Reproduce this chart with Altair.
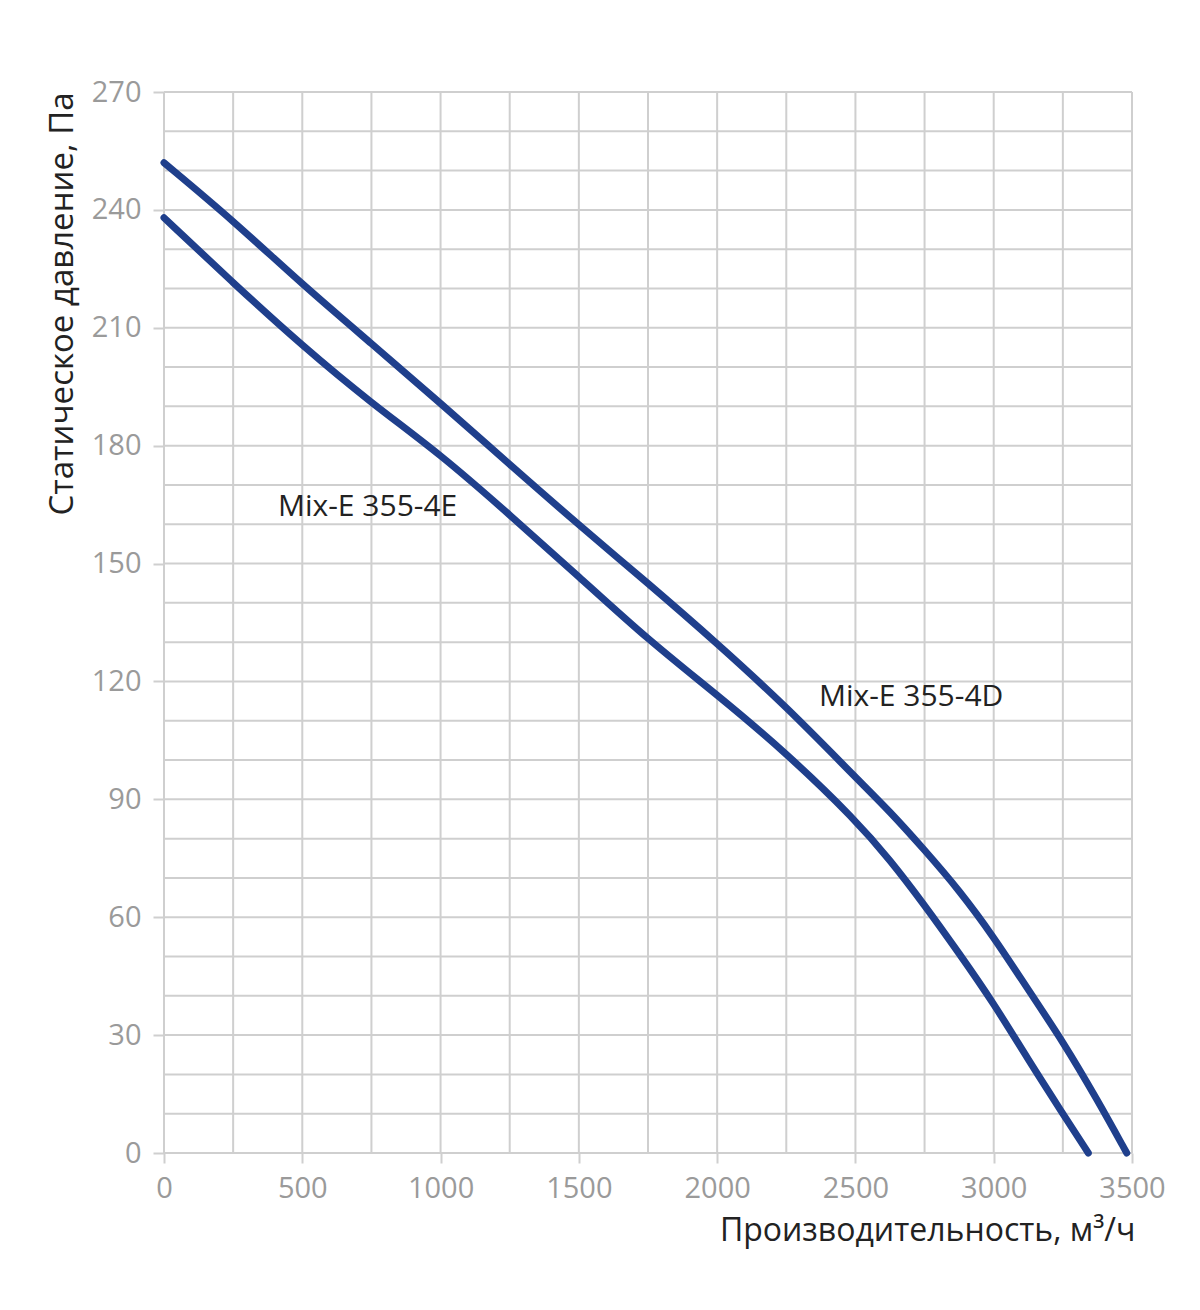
import altair as alt
import pandas as pd

# Data
flow_4d = [0, 250, 500, 750, 1000, 1250, 1500, 1750, 2000, 2250, 2500, 2625, 2750, 2875, 3000, 3125, 3250, 3375, 3481]
pres_4d = [252, 237.3, 221, 206, 190.8, 175.2, 159.8, 145, 129.7, 113.6, 95.6, 86.9, 77.1, 66.9, 55, 41.5, 28.4, 13.5, 0]
flow_4e = [0, 250, 500, 750, 1000, 1250, 1500, 1750, 2000, 2250, 2500, 2625, 2750, 2875, 3000, 3125, 3250, 3342]
pres_4e = [238, 221.4, 205.4, 190.8, 177.8, 162.4, 146.7, 130.6, 116.6, 101.8, 84.8, 74.6, 63.1, 50.8, 38.1, 23.7, 10, 0]

series_names = ["Mix-E 355-4D", "Mix-E 355-4E"]
label_x = [2368, 412]
label_y = [116, 164.4]

x_ticks = list(range(0, 3501, 500))
y_ticks = list(range(0, 271, 30))
x_grid = list(range(0, 3501, 250))
y_grid = list(range(0, 271, 10))

FONT = "Open Sans"
LINE_COLOR = "#1f3f8c"
GRID = "#cfcfcf"

df = pd.concat([
    pd.DataFrame({"flow": flow_4d, "pressure": pres_4d, "series": series_names[0]}),
    pd.DataFrame({"flow": flow_4e, "pressure": pres_4e, "series": series_names[1]}),
])
labels = pd.DataFrame({"flow": label_x, "pressure": label_y, "text": series_names})
xg = pd.DataFrame({"flow": x_grid})
yg = pd.DataFrame({"pressure": y_grid})

x_scale = alt.Scale(domain=[0, 3500], nice=False, zero=False)
y_scale = alt.Scale(domain=[0, 270], nice=False, zero=False)

x_axis = alt.Axis(
    values=x_ticks,
    title="Производительность, м³/ч",
    grid=False, domain=False,
    ticks=True, tickSize=10, tickWidth=2, tickColor=GRID,
    format="d",
    labelFont=FONT, labelFontSize=29, labelColor="#9a9a9a", labelPadding=11,
    labelFlush=False, labelOverlap=False,
    titleFont=FONT, titleFontSize=32, titleFontWeight="normal", titleColor="#222222",
    titleAnchor="end", titleAlign="right", titleX=971, titleY=87, titleBaseline="alphabetic",
)
y_axis = alt.Axis(
    values=y_ticks,
    title="Статическое давление, Па",
    grid=False, domain=False,
    ticks=True, tickSize=11, tickWidth=2, tickColor=GRID,
    format="d",
    labelFont=FONT, labelFontSize=29, labelColor="#9a9a9a", labelPadding=12,
    labelFlush=False, labelOverlap=False,
    titleFont=FONT, titleFontSize=33, titleFontWeight="normal", titleColor="#222222",
    titleAngle=270, titleAnchor="end", titleAlign="right", titleBaseline="middle",
    titleX=-102, titleY=0,
)

vgrid = alt.Chart(xg).mark_rule(color=GRID, strokeWidth=2).encode(
    x=alt.X("flow:Q", scale=x_scale, axis=x_axis),
)
hgrid = alt.Chart(yg).mark_rule(color=GRID, strokeWidth=2).encode(
    y=alt.Y("pressure:Q", scale=y_scale, axis=y_axis),
)

lines = alt.Chart(df).mark_line(
    strokeWidth=7, color=LINE_COLOR, interpolate="basis", strokeCap="round", strokeJoin="round"
).encode(
    x=alt.X("flow:Q", scale=x_scale, axis=x_axis),
    y=alt.Y("pressure:Q", scale=y_scale, axis=y_axis),
    detail="series:N",
)

texts = alt.Chart(labels).mark_text(
    align="left", baseline="middle", font=FONT, fontSize=30, color="#222222"
).encode(
    x=alt.X("flow:Q", scale=x_scale, axis=x_axis),
    y=alt.Y("pressure:Q", scale=y_scale, axis=y_axis),
    text="text:N",
)

chart = alt.layer(vgrid, hgrid, lines, texts).properties(
    width=968, height=1061,
    autosize=alt.AutoSizeParams(type="none"),
    padding={"left": 156, "top": 84, "right": 60, "bottom": 140},
).configure_view(stroke=None).configure(background="white")

chart.save("out.html", embed_options={"renderer": "svg", "actions": False})
